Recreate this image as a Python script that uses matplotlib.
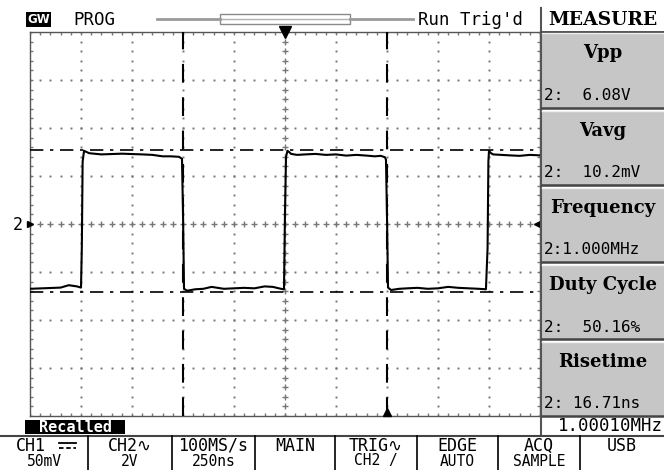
import numpy as np
import matplotlib
matplotlib.use("Agg")
import matplotlib.pyplot as plt
from matplotlib.patches import Rectangle
from matplotlib.lines import Line2D

# ---------------- data ----------------
# CH2 waveform (time in ns relative to trigger, voltage in V)
wave_t = [-1250, -1100, -1060, -1020, -1000, -996, -992, -985, -960, -900, -800, -700, -650,
          -600, -560, -520, -505, -500, -495, -480, -440, -400, -360, -300, -250, -200,
          -150, -100, -60, -20, -5, 0, 5, 12, 20, 30, 60, 100, 150, 200, 250, 300, 350,
          400, 440, 470, 490, 495, 500, 505, 520, 560, 600, 650, 700, 750, 800, 850, 900,
          950, 985, 993, 997, 1000, 1010, 1020, 1060, 1100, 1150, 1200, 1250]
wave_v = [-2.70, -2.65, -2.55, -2.60, -2.65, -1.0, 2.6, 3.05, 2.95, 2.90, 2.93, 2.90, 2.88,
          2.82, 2.82, 2.80, 2.72, 0.5, -2.70, -2.78, -2.72, -2.70, -2.62, -2.70, -2.68, -2.66,
          -2.68, -2.60, -2.62, -2.70, -2.72, 0.5, 2.80, 3.05, 3.00, 2.92, 2.88, 2.90, 2.92,
          2.88, 2.90, 2.85, 2.88, 2.85, 2.82, 2.84, 2.78, 2.68, 0.3, -2.65, -2.75, -2.70,
          -2.68, -2.66, -2.70, -2.68, -2.62, -2.66, -2.68, -2.70, -2.72, -1.0, 2.6, 3.05,
          2.95, 2.90, 2.88, 2.86, 2.84, 2.88, 2.86]
cursor_t = [-500, 500]          # vertical time cursors (ns)
cursor_v = [3.1, -2.85]         # horizontal voltage cursors (V)

meas_titles = ["Vpp", "Vavg", "Frequency", "Duty Cycle", "Risetime"]
meas_values = ["2:  6.08V", "2:  10.2mV", "2:1.000MHz", "2:  50.16%", "2: 16.71ns"]
bottom_top = ["CH1", "CH2\u223f", "100MS/s", "MAIN", "TRIG\u223f", "EDGE", "ACQ", "USB"]
bottom_bot = ["50mV", "2V", "250ns", "", "CH2 /", "AUTO", "SAMPLE", ""]
freq_counter = "1.00010MHz"

W, H = 664, 470
fig = plt.figure(figsize=(W / 100, H / 100), dpi=100)
fig.patch.set_facecolor("white")

def X(px):
    return px / W

def Y(py):
    return 1 - py / H

def rect(x0, y0, x1, y1, fc, ec="none", lw=0.0, z=0):
    fig.patches.append(Rectangle((X(x0), Y(y1)), X(x1) - X(x0), Y(y0) - Y(y1),
                                 transform=fig.transFigure, fc=fc, ec=ec, lw=lw, zorder=z))

def hline(x0, x1, y, c="black", lw=1.0, z=2, **kw):
    fig.lines.append(Line2D([X(x0), X(x1)], [Y(y), Y(y)], transform=fig.transFigure,
                            color=c, lw=lw, zorder=z, **kw))

def vline(x, y0, y1, c="black", lw=1.0, z=2):
    fig.lines.append(Line2D([X(x), X(x)], [Y(y0), Y(y1)], transform=fig.transFigure,
                            color=c, lw=lw, zorder=z))

mono = ["DejaVu Sans Mono", "DejaVu Sans", "Noto Sans", "Noto Sans CJK JP"]
serif = "DejaVu Serif"

# ---------------- graticule axes ----------------
gl, gt, gr, gb = 30, 32, 540, 416
ax = fig.add_axes([X(gl), Y(gb), X(gr) - X(gl), Y(gt) - Y(gb)])
ax.set_xlim(-1250, 1250)
ax.set_ylim(-8, 8)
ax.set_xticks([]); ax.set_yticks([])
for s in ax.spines.values():
    s.set_color("#555555"); s.set_linewidth(1.0)

xdiv = 250.0
ydiv = 2.0
gcol = "#777777"
xs_minor = np.arange(-1250, 1250.1, xdiv / 5)
ys_minor = np.arange(-8, 8.01, ydiv / 5)
for k in range(-4, 5):
    if k == 0:
        continue
    ax.plot(np.full(len(ys_minor), k * xdiv), ys_minor, ls="none", marker="s", ms=1.4,
            color=gcol, mew=0)
for k in range(-3, 4):
    if k == 0:
        continue
    ax.plot(xs_minor, np.full(len(xs_minor), k * ydiv), ls="none", marker="s", ms=1.4,
            color=gcol, mew=0)
ax.plot(xs_minor, np.zeros(len(xs_minor)), ls="none", marker="+", ms=5, mew=1.0, color=gcol)
ax.plot(np.zeros(len(ys_minor)), ys_minor, ls="none", marker="+", ms=5, mew=1.0, color=gcol)
ax.plot(xs_minor, np.full(len(xs_minor), 8), ls="none", marker="|", ms=4, mew=1.0, color=gcol)
ax.plot(xs_minor, np.full(len(xs_minor), -8), ls="none", marker="|", ms=4, mew=1.0, color=gcol)
ax.plot(np.full(len(ys_minor), -1250), ys_minor, ls="none", marker="_", ms=4, mew=1.0, color=gcol)
ax.plot(np.full(len(ys_minor), 1250), ys_minor, ls="none", marker="_", ms=4, mew=1.0, color=gcol)

for ct in cursor_t:
    ax.axvline(ct, color="black", lw=1.5, dashes=(9, 7), zorder=3)
for cv in cursor_v:
    ax.axhline(cv, color="black", lw=1.2, dashes=(8, 4, 2, 4), zorder=3)

ax.plot(wave_t, wave_v, color="black", lw=1.5, zorder=4)

ax.plot([0], [8], marker="v", ms=8, color="black", clip_on=False, zorder=5)
ax.plot([500], [-7.85], marker="^", ms=6, color="black", clip_on=False, zorder=5)
ax.plot([1250], [0], marker="<", ms=9, color="black", clip_on=False, zorder=5)
ax.plot([-1250], [0], marker=">", ms=5, color="black", clip_on=False, zorder=5)
fig.text(X(13), Y(225), "2", fontsize=12, family=mono, va="center", ha="left")

# ---------------- top bar ----------------
rect(26, 12, 51, 27, "black", z=1)
fig.text(X(38.5), Y(19.5), "GW", fontsize=8.5, family="DejaVu Sans", weight="bold",
         color="white", ha="center", va="center")
fig.text(X(73), Y(20), "PROG", fontsize=12.5, family=mono, ha="left", va="center")
hline(157, 220, 19, c="#9a9a9a", lw=2.0)
hline(350, 413, 19, c="#9a9a9a", lw=2.0)
rect(220, 14, 350, 24, "white", ec="#8a8a8a", lw=1.0, z=1)
hline(222, 348, 19, c="#b0b0b0", lw=1.0)
fig.text(X(418), Y(20), "Run Trig'd", fontsize=12.5, family=mono, ha="left", va="center")

# ---------------- right panel ----------------
vline(541, 8, 436, c="#555555", lw=1.5)
fig.text(X(603), Y(20), "MEASURE", fontsize=13.5, family=serif, weight="bold",
         ha="center", va="center")
hline(542, 664, 32, c="#444444", lw=2)
sec = [(33, 108), (111, 185), (188, 262), (265, 339), (342, 416)]
for (y0, y1), t, v in zip(sec, meas_titles, meas_values):
    rect(542, y0, 664, y1, "#c6c6c6", z=0)
    hline(542, 664, y1, c="#444444", lw=1.8)
    hline(542, 664, y0, c="#f0f0f0", lw=1.0)
    fig.text(X(603), Y(y0 + 20), t, fontsize=13, family=serif, weight="bold",
             ha="center", va="center")
    fig.text(X(544), Y(y1 - 12), v, fontsize=11.5, family=mono, ha="left", va="center")

# ---------------- status + bottom bar ----------------
rect(25, 420, 125, 434, "black", z=1)
fig.text(X(75), Y(427), "Recalled", fontsize=11, family=mono, weight="bold",
         color="white", ha="center", va="center")
fig.text(X(663), Y(426), freq_counter, fontsize=12.5, family=mono, ha="right", va="center")
hline(0, 664, 436, c="#444444", lw=1.5)
divs = [0, 88, 172, 255, 335, 417, 498, 580, 664]
for d in divs[1:-1]:
    vline(d, 436, 470, c="black", lw=1.2)
for i in range(8):
    cx = (divs[i] + divs[i + 1]) / 2
    if i == 0:
        fig.text(X(16), Y(446), bottom_top[i], fontsize=12, family=mono, ha="left", va="center")
    else:
        fig.text(X(cx), Y(446), bottom_top[i], fontsize=12, family=mono, ha="center",
                 va="center")
    if bottom_bot[i]:
        fig.text(X(cx), Y(461), bottom_bot[i], fontsize=10.5, family=mono, ha="center",
                 va="center")
# DC coupling symbol (solid line over dashed line) next to CH1
hline(59, 76, 443, c="black", lw=1.3)
hline(59, 76, 448, c="black", lw=1.3, dashes=(2.5, 1.5))

fig.savefig("out.png", dpi=100)
